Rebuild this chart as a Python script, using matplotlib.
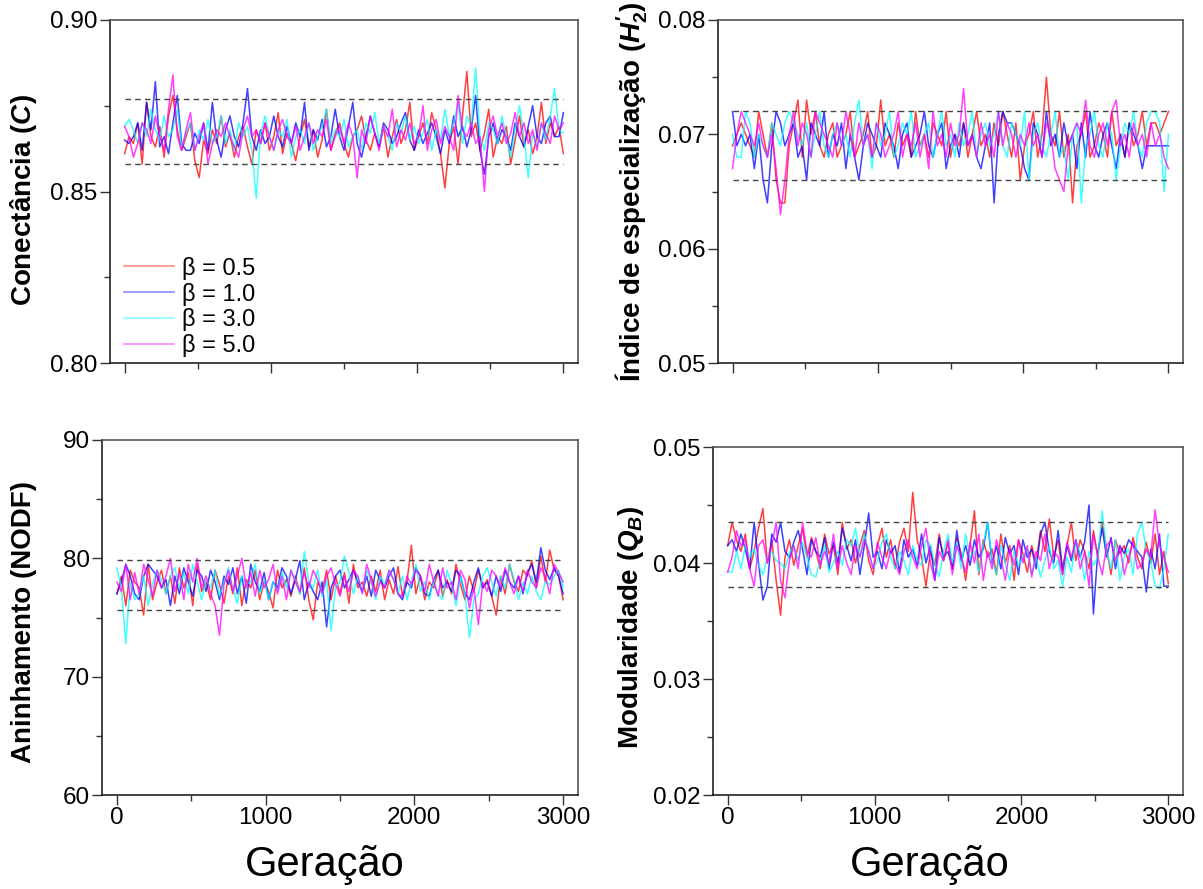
import numpy as np
import matplotlib
matplotlib.use('Agg')
import matplotlib.pyplot as plt
from matplotlib.ticker import MultipleLocator

plt.rcParams['font.family'] = ['Liberation Sans', 'DejaVu Sans']
plt.rcParams['mathtext.fontset'] = 'custom'
plt.rcParams['mathtext.rm'] = 'Liberation Sans:bold'
plt.rcParams['mathtext.it'] = 'Liberation Sans:bold:italic'
plt.rcParams['mathtext.bf'] = 'Liberation Sans:bold'

# legend labels and colours
betas = ['β = 0.5', 'β = 1.0', 'β = 3.0', 'β = 5.0']
colors = ['red', 'blue', 'cyan', 'magenta']

# --- Conectancia (C), values x1000 ---
conn_b05 = [861,866,864,870,858,876,866,863,869,860,
            872,878,868,862,866,870,859,854,865,861,
            868,864,872,863,867,860,866,869,863,858,
            868,864,870,862,866,873,861,867,864,859,
            866,871,863,868,860,865,874,862,867,870,
            864,860,866,868,872,865,862,867,863,869,
            860,866,871,864,868,876,862,866,870,864,
            873,868,861,851,864,869,858,872,885,866,
            870,862,867,874,860,866,864,869,858,865,
            872,863,868,861,866,876,864,870,866,869,
            861]
conn_b10 = [865,864,866,870,862,876,868,882,863,866,
            861,870,878,864,862,862,867,864,870,862,
            876,865,860,868,872,866,863,870,880,866,
            862,868,864,866,872,866,863,869,864,870,
            866,876,862,868,865,871,863,866,874,866,
            862,869,876,864,860,866,872,867,863,870,
            868,864,866,870,873,865,862,868,864,867,
            870,866,861,868,864,872,866,869,863,868,
            878,862,855,866,870,864,868,866,862,870,
            866,863,869,875,866,864,870,872,866,866,
            873]
conn_b30 = [869,871,868,864,870,866,874,868,865,872,
            866,868,874,863,867,870,862,868,865,871,
            864,866,872,864,868,862,870,866,869,862,
            848,867,872,866,862,868,866,871,860,866,
            868,864,870,862,866,869,874,864,868,866,
            871,863,866,868,862,870,867,873,864,869,
            866,862,870,867,872,865,869,864,867,871,
            862,868,865,874,866,870,876,864,872,869,
            886,866,862,870,868,864,872,866,860,868,
            875,866,854,867,863,870,865,872,880,868,
            867]
conn_b50 = [869,866,860,864,870,868,864,872,866,862,
            874,884,866,862,868,873,862,866,870,858,
            864,868,866,870,866,863,860,868,872,866,
            868,864,870,866,862,868,871,866,864,869,
            862,866,870,864,868,866,871,862,866,869,
            864,870,866,854,868,864,872,867,862,869,
            866,874,863,868,865,870,864,866,875,862,
            868,871,864,869,866,862,878,868,866,870,
            864,866,850,868,872,866,870,864,867,873,
            866,870,864,868,862,870,867,864,872,868,
            870]

# --- Indice de especializacao (H2'), values x1000 ---
h2_b05 = [69,70,71,70,69,68,72,70,68,71,
          66,64,64,69,71,73,68,73,70,72,
          69,68,70,71,68,69,70,72,68,69,
          70,72,68,69,73,69,70,68,71,69,
          70,68,72,69,70,68,71,70,69,72,
          68,70,69,71,68,70,72,69,70,68,
          71,69,72,70,68,71,66,69,70,72,
          68,70,75,70,69,72,68,70,64,69,
          70,72,68,69,71,70,68,72,69,70,
          68,71,69,70,72,69,71,71,70,71,
          72]
h2_b10 = [72,69,70,69,70,67,70,66,64,69,
          72,71,69,70,71,68,69,66,71,70,
          69,72,68,70,69,71,67,70,68,66,
          69,71,70,69,68,71,70,69,67,70,
          71,68,69,70,72,69,68,70,71,67,
          69,70,68,71,69,70,68,67,69,71,
          64,70,72,71,71,70,69,67,66,71,
          70,68,72,69,70,68,71,69,70,67,
          71,68,72,69,68,70,71,69,67,70,
          68,71,70,69,67,69,69,69,69,69,
          69]
h2_b30 = [70,68,68,72,71,68,70,69,68,71,
          70,69,71,72,71,70,69,71,68,70,
          72,69,68,70,71,69,70,68,71,73,
          69,70,67,71,69,70,72,68,69,71,
          70,72,68,69,70,71,68,70,72,69,
          70,68,71,69,70,72,68,70,71,69,
          70,72,69,68,71,70,69,72,66,70,
          71,69,68,70,72,68,69,66,70,71,
          64,69,70,72,69,68,71,70,66,69,
          71,70,72,69,68,71,72,72,71,65,
          70]
h2_b50 = [67,70,72,71,70,69,71,69,68,70,
          67,63,66,70,72,69,71,70,68,72,
          71,70,69,68,71,69,72,70,68,71,
          69,70,68,71,70,68,69,70,72,68,
          70,69,71,68,70,67,72,69,70,68,
          71,69,70,74,69,70,68,71,69,70,
          68,72,69,71,70,68,70,69,71,69,
          70,68,71,70,67,66,65,69,70,71,
          70,73,69,68,70,71,69,72,73,69,
          70,68,71,69,70,68,71,69,70,68,
          67]

# --- Aninhamento (NODF) ---
nodf_b05 = [77.0,78.5,76.0,79.0,78.0,77.5,75.2,79.5,76.5,78.0,
            79.0,77.0,78.5,76.2,79.2,77.5,78.8,76.0,79.5,77.2,
            78.0,76.5,79.0,77.8,76.2,78.5,77.0,79.2,76.0,78.2,
            77.5,79.0,76.5,78.0,77.2,75.8,79.0,77.5,78.2,76.8,
            78.5,77.0,79.2,76.5,74.8,78.0,77.2,79.0,76.5,78.5,
            77.0,78.8,76.2,79.5,77.5,78.0,76.8,78.5,77.2,79.0,
            76.5,78.2,77.0,79.3,76.8,78.0,81.1,77.0,78.5,76.5,
            78.0,77.5,79.0,76.8,78.2,77.0,79.5,77.8,76.5,78.5,
            77.2,79.0,77.5,78.2,76.8,75.2,78.5,77.0,79.5,78.0,
            77.2,79.0,78.5,79.8,77.5,80.2,78.0,80.7,79.0,78.5,
            76.5]
nodf_b10 = [77.0,78.0,79.5,78.5,77.0,76.5,78.5,79.5,79.0,78.5,
            77.5,78.2,76.0,78.5,77.0,79.2,78.0,76.8,79.0,78.5,
            77.2,79.0,78.0,76.5,78.5,77.8,79.2,77.0,78.5,76.2,
            79.5,78.0,77.2,78.8,76.5,78.0,77.5,79.2,78.5,77.0,
            78.2,79.8,76.5,78.0,77.2,76.5,78.0,74.2,77.5,78.5,
            79.0,77.5,78.2,79.0,78.0,77.2,78.5,76.8,79.0,78.2,
            77.5,78.5,79.2,77.0,76.5,78.0,77.5,79.2,78.5,77.0,
            76.8,78.2,79.0,77.5,78.0,77.2,79.0,78.5,77.0,76.5,
            78.0,79.2,77.5,78.0,76.8,78.5,77.2,79.0,78.0,77.5,
            78.5,77.0,78.8,79.5,78.0,80.9,79.0,78.2,79.2,78.5,
            77.0]
nodf_b30 = [79.2,77.5,72.8,78.0,76.5,77.0,78.5,76.0,77.8,79.0,
            78.2,77.0,78.5,79.2,77.5,78.8,77.0,79.5,78.0,76.5,
            78.2,77.5,79.0,76.8,78.0,79.2,77.5,76.2,78.5,77.8,
            78.0,79.5,77.0,78.2,76.5,78.0,77.2,78.8,77.5,79.0,
            78.2,77.0,80.6,78.0,77.5,79.0,76.8,78.2,73.9,77.5,
            78.0,80.2,78.8,77.0,78.5,77.2,79.0,78.0,76.5,78.5,
            77.8,79.0,78.2,77.0,78.5,76.5,78.0,79.5,77.2,78.0,
            76.5,78.2,77.0,76.5,79.0,77.8,76.0,78.5,77.0,73.3,
            76.5,77.0,78.5,79.2,78.0,76.8,78.5,77.5,79.5,78.2,
            76.5,78.0,77.0,78.5,77.2,76.5,78.0,77.8,78.5,79.0,
            77.5]
nodf_b50 = [78.0,77.2,79.5,76.5,78.8,77.0,79.5,78.2,76.8,79.0,
            77.5,78.5,80.0,77.2,78.8,76.5,79.5,78.0,80.0,77.5,
            78.5,77.0,76.0,73.5,77.8,79.0,77.2,78.5,80.0,77.5,
            78.8,76.8,79.0,77.5,78.2,79.5,77.0,78.5,76.5,79.0,
            78.0,77.2,78.8,77.5,79.0,78.2,77.0,78.5,79.2,77.8,
            76.8,78.5,77.2,79.0,78.5,77.0,79.5,78.2,76.8,78.0,
            77.5,79.0,78.2,77.0,76.8,78.5,77.8,79.0,78.5,77.2,
            79.5,78.0,76.8,79.2,77.5,78.0,76.5,79.0,78.2,75.8,
            77.5,74.4,78.0,77.2,79.0,78.5,77.5,79.2,78.0,77.0,
            78.5,77.2,79.0,78.0,77.5,79.2,78.5,77.0,79.5,78.8,
            78.0]

# --- Modularidade (QB), values x1000 ---
mod_b05 = [41.5,43.5,42.0,41.0,42.5,39.5,41.0,43.0,44.7,40.0,
           42.0,38.5,35.5,40.5,42.0,39.8,41.5,43.0,40.5,42.2,
           41.0,39.5,42.5,40.8,41.5,39.0,43.5,41.2,42.0,40.0,
           41.5,42.8,40.2,39.0,41.5,43.0,40.5,42.0,39.5,41.8,
           43.0,41.0,46.1,42.0,40.5,38.0,41.0,39.8,42.5,40.2,
           41.8,39.5,42.2,40.8,38.5,41.5,44.5,39.0,42.0,40.5,
           41.2,39.0,42.5,40.0,41.5,38.5,42.0,40.8,39.2,41.5,
           40.0,42.8,41.0,43.8,40.5,42.0,39.0,41.5,43.5,40.2,
           42.0,41.0,39.5,42.8,40.5,43.5,41.2,39.0,42.0,40.8,
           41.5,40.0,42.2,40.5,39.5,41.8,40.0,42.5,39.0,41.0,
           38.2]
mod_b10 = [41.5,42.0,41.0,42.5,41.2,39.5,43.5,40.0,36.8,38.0,
           42.5,41.8,43.5,41.0,40.5,41.8,42.8,41.2,39.0,42.0,
           41.0,40.5,42.2,39.5,41.8,40.0,43.0,41.5,40.2,42.0,
           39.0,41.5,44.3,40.5,41.0,39.5,42.0,40.8,41.5,39.2,
           42.0,40.5,41.2,39.8,42.5,40.0,41.5,38.5,42.2,40.5,
           41.0,39.5,42.8,40.2,41.5,39.8,42.0,40.5,41.2,43.5,
           40.0,41.5,39.5,42.2,40.8,41.5,39.0,42.0,40.5,41.2,
           39.5,42.5,43.5,41.0,40.0,42.8,39.5,41.5,40.2,42.0,
           40.5,41.8,45.0,35.6,41.0,43.0,40.5,42.2,39.5,41.5,
           40.8,42.0,41.5,41.0,40.5,37.5,41.2,39.5,42.5,38.0,
           38.0]
mod_b30 = [39.3,39.2,41.0,39.5,41.5,40.5,41.2,39.8,39.0,40.5,
           41.0,40.2,40.0,39.5,40.8,41.5,40.2,41.8,40.5,39.0,
           38.8,40.2,41.5,39.2,40.0,41.0,39.8,42.0,41.5,43.0,
           40.5,42.5,41.0,39.5,40.2,41.8,42.5,40.5,39.5,41.0,
           40.2,39.0,41.5,40.2,39.8,42.0,41.5,40.0,38.8,41.0,
           42.5,40.0,41.8,39.5,42.5,40.5,41.0,39.2,41.5,43.5,
           40.2,39.0,41.5,40.0,38.5,41.0,39.8,40.5,41.2,39.0,
           40.5,38.8,40.2,41.5,39.5,40.2,38.0,40.5,39.2,42.0,
           40.8,38.5,41.0,39.8,40.5,44.5,41.0,39.5,42.0,38.5,
           40.5,41.2,39.0,42.5,43.5,41.0,40.2,38.0,37.8,39.5,
           42.5]
mod_b50 = [39.2,40.5,42.8,41.5,42.0,39.5,38.0,41.5,42.0,40.0,
           41.5,43.5,38.5,37.0,40.2,41.5,39.5,43.5,41.0,40.5,
           42.2,39.8,41.0,40.0,42.5,39.5,41.5,40.0,39.0,41.5,
           40.5,42.0,41.0,39.5,41.8,40.5,39.5,41.2,40.0,39.0,
           41.0,42.0,40.5,39.5,41.5,43.0,40.0,38.5,41.0,40.2,
           42.0,39.0,41.5,40.5,39.2,41.8,40.0,42.5,38.5,41.0,
           39.5,42.0,40.5,38.5,41.2,39.8,42.0,40.0,41.5,38.8,
           41.0,40.2,42.5,39.5,41.0,40.5,39.0,41.8,40.5,42.0,
           39.5,41.0,38.0,42.5,40.5,39.0,41.5,42.0,40.2,41.5,
           39.0,40.5,41.8,39.5,40.0,41.2,40.5,44.6,41.5,40.5,
           39.2]

# dashed reference bands
conn_band = [0.858, 0.877]
h2_band = [0.066, 0.072]
nodf_band = [75.6, 79.9]
mod_band = [0.0379, 0.0435]

W, H = 1203, 889
fig = plt.figure(figsize=(W / 100, H / 100), dpi=100)


def px_axes(left, top, right, bottom):
    return fig.add_axes([left / W, 1 - bottom / H, (right - left) / W, (bottom - top) / H])


panels = [
    dict(box=(110, 20, 578, 363), series=[conn_b05, conn_b10, conn_b30, conn_b50], scale=1000,
         band=conn_band, ylim=(0.80, 0.90), major=0.05, minor=0.025, fmt='%.2f',
         label=r'Conectância ($C$)', lab_xy=(24, 200), bottom=False),
    dict(box=(718, 20, 1183, 363), series=[h2_b05, h2_b10, h2_b30, h2_b50], scale=1000,
         band=h2_band, ylim=(0.05, 0.08), major=0.01, minor=0.005, fmt='%.2f',
         label=r"Índice de especialização ($H_2^{\prime}$)", lab_xy=(632, 192), bottom=False),
    dict(box=(102, 440, 578, 795), series=[nodf_b05, nodf_b10, nodf_b30, nodf_b50], scale=1,
         band=nodf_band, ylim=(60, 90), major=10, minor=5, fmt='%d',
         label='Aninhamento (NODF)', lab_xy=(24, 622), bottom=True),
    dict(box=(713, 447, 1183, 795), series=[mod_b05, mod_b10, mod_b30, mod_b50], scale=1000,
         band=mod_band, ylim=(0.02, 0.05), major=0.01, minor=0.005, fmt='%.2f',
         label=r'Modularidade ($Q_B$)', lab_xy=(631, 627), bottom=True),
]

axes = []
for p in panels:
    ax = px_axes(*p['box'])
    axes.append(ax)
    for vals, col, lab in zip(p['series'], colors, betas):
        y = np.array(vals, dtype=float) / p['scale']
        x = np.linspace(0, 3000, len(y))
        ax.plot(x, y, color=col, lw=1.1, alpha=0.75, label=lab)
    for b in p['band']:
        ax.plot([0, 3000], [b, b], color='#444444', lw=1.0, ls=(0, (4, 3)))
    ax.set_xlim(-100, 3100)
    ax.set_ylim(*p['ylim'])
    ax.yaxis.set_major_locator(MultipleLocator(p['major']))
    ax.yaxis.set_minor_locator(MultipleLocator(p['minor']))
    ax.yaxis.set_major_formatter(matplotlib.ticker.FormatStrFormatter(p['fmt']))
    ax.xaxis.set_major_locator(MultipleLocator(1000))
    ax.xaxis.set_minor_locator(MultipleLocator(500))
    ax.tick_params(which='major', direction='out', length=7, width=1.0, labelsize=17.5,
                   color='#333333', pad=2)
    ax.tick_params(which='minor', direction='out', length=4, width=1.0, color='#333333')
    if not p['bottom']:
        ax.tick_params(axis='x', labelbottom=False)
    for side in ['left', 'bottom']:
        ax.spines[side].set_color('#222222')
        ax.spines[side].set_linewidth(1.2)
    for side in ['top', 'right']:
        ax.spines[side].set_color('#555555')
        ax.spines[side].set_linewidth(1.2)
    fig.text(p['lab_xy'][0] / W, 1 - p['lab_xy'][1] / H, p['label'], rotation=90,
             ha='center', va='center', fontsize=20, fontweight='bold')

leg = axes[0].legend(loc='lower left', bbox_to_anchor=(-0.015, -0.045), frameon=False,
                     fontsize=17, handlelength=2.1, labelspacing=0.12, handletextpad=0.35,
                     borderaxespad=0.5)
for line in leg.get_lines():
    line.set_alpha(0.5)

fig.text(325 / W, 1 - 865 / H, 'Geração', ha='center', va='center', fontsize=30)
fig.text(930 / W, 1 - 865 / H, 'Geração', ha='center', va='center', fontsize=30)

fig.savefig('out.png', dpi=100)
